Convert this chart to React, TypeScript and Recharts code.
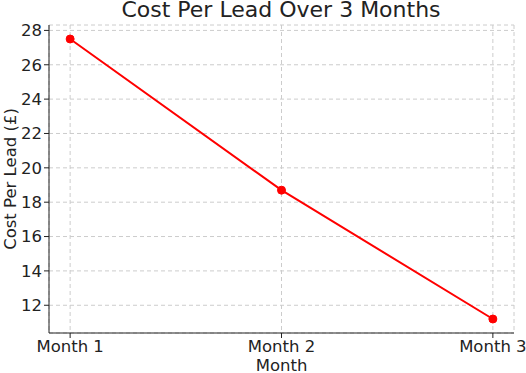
import {
  LineChart,
  Line,
  XAxis,
  YAxis,
  CartesianGrid,
  Label,
} from "recharts";

const months = ["Month 1", "Month 2", "Month 3"];
const costPerLead = [27.5, 18.7, 11.2];
const yTicks = [12, 14, 16, 18, 20, 22, 24, 26, 28];

const data = months.map((m, i) => ({ idx: i, month: m, cost: costPerLead[i] }));

const FONT = "'DejaVu Sans', sans-serif";

export default function App() {
  return (
    <div style={{ position: "absolute", left: 0, top: 0, fontFamily: FONT }}>
      <div
        style={{
          position: "absolute",
          left: 0,
          top: -3,
          width: 562,
          textAlign: "center",
          fontSize: 22,
          color: "#222",
        }}
      >
        Cost Per Lead Over 3 Months
      </div>
      <LineChart
        width={526}
        height={373}
        data={data}
        margin={{ top: 25, right: 12, left: 0, bottom: 0 }}
      >
        <CartesianGrid stroke="#cccccc" strokeDasharray="4 3" />
        <XAxis
          dataKey="idx"
          type="number"
          domain={[-0.1, 2.1]}
          ticks={[0, 1, 2]}
          tickFormatter={(v) => months[v]}
          height={40}
          stroke="#222"
          tickSize={5}
          tick={{ fill: "#222", fontSize: 16.5, fontFamily: FONT }}
        >
          <Label
            value="Month"
            position="insideBottom"
            offset={2}
            style={{ fill: "#222", fontSize: 16.5, fontFamily: FONT }}
          />
        </XAxis>
        <YAxis
          type="number"
          domain={[10.385, 28.315]}
          ticks={yTicks}
          width={49}
          stroke="#222"
          tickSize={5}
          tick={{ fill: "#222", fontSize: 16.5, fontFamily: FONT }}
        >
          <Label
            value="Cost Per Lead (£)"
            angle={-90}
            position="insideLeft"
            offset={10}
            style={{ fill: "#222", fontSize: 16.5, fontFamily: FONT, textAnchor: "middle" }}
          />
        </YAxis>
        <Line
          type="linear"
          dataKey="cost"
          stroke="#ff0000"
          strokeWidth={2}
          dot={{ r: 4, fill: "#ff0000", stroke: "#ff0000", strokeWidth: 1 }}
          isAnimationActive={false}
        />
      </LineChart>
    </div>
  );
}
